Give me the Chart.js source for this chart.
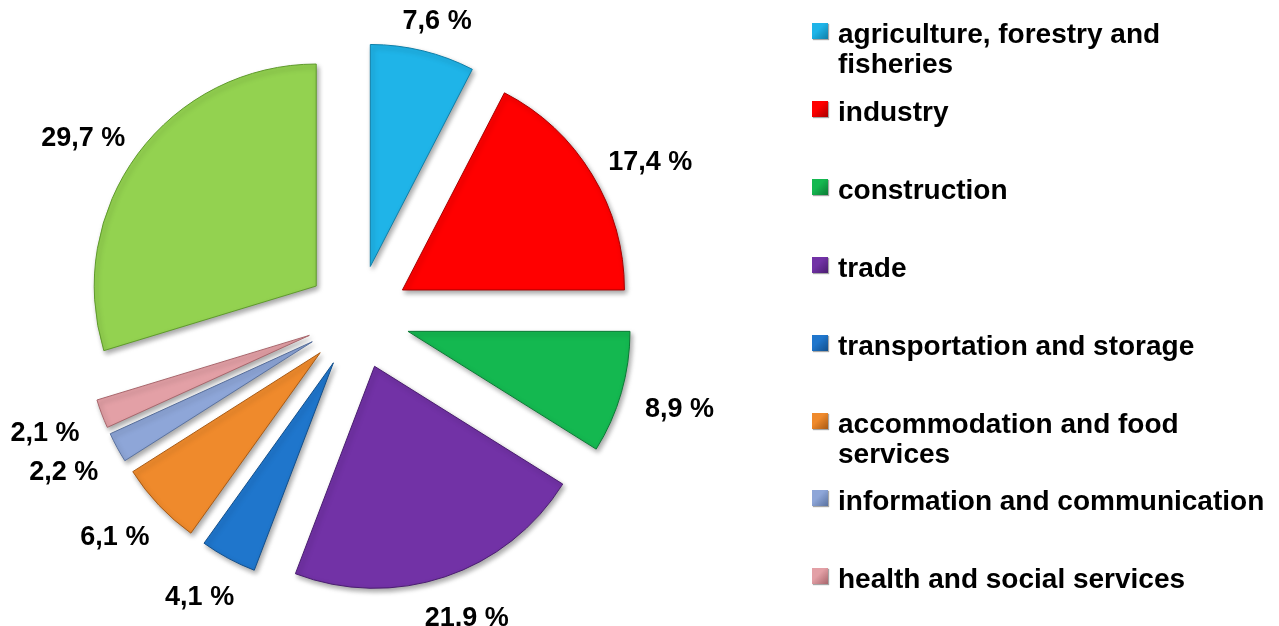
<!DOCTYPE html>
<html>
<head>
<meta charset="utf-8">
<script src="https://cdn.jsdelivr.net/npm/chart.js@4"></script>
<style>
  html, body { margin: 0; padding: 0; background: #fff; }
  #wrap { position: relative; width: 1279px; height: 626px; }
  #grafico { position: absolute; left: 0; top: 0; }
  #legenda { position: absolute; left: 812px; top: 0; width: 467px; }
  .item { position: absolute; left: 0; }
  .marca { position: absolute; left: 0; top: 4px; width: 16px; height: 16px; box-shadow: 1px 1px 1px rgba(0,0,0,0.35); }
  .texto { position: absolute; left: 26px; top: 0; width: 434px; font: bold 28px Arial, "Liberation Sans", sans-serif; line-height: 30px; color: #000; }
</style>
</head>
<body>
<div id="wrap">
  <canvas id="grafico" width="1279" height="626"></canvas>
  <div id="legenda"></div>
</div>
<script>
// categorias (a ultima fatia nao aparece na legenda)
var categorias = [
  "agriculture, forestry and fisheries",
  "industry",
  "construction",
  "trade",
  "transportation and storage",
  "accommodation and food services",
  "information and communication",
  "health and social services",
  "other"
];
// participacao em %
var valores = [7.6, 17.4, 8.9, 21.9, 4.1, 6.1, 2.2, 2.1, 29.7];

var cores = ["#1fb4e8", "#ff0000", "#14b850", "#7232a6", "#1f76cc", "#ef8a2c", "#8ea6d8", "#e3a0a6", "#93d250"];
var bordas = ["#0f7fa8", "#a80000", "#0b7a34", "#4a1d70", "#124f8c", "#a85a14", "#5a72a0", "#a8666c", "#5f9a2c"];

var explosao = 52; // distancia que cada fatia sai do centro (px)
var raio = 222;

// o offset do chart.js encolhe o angulo e aumenta o raio das fatias pequenas,
// entao a fatia e so deslocada aqui, igual ao grafico "explodido" do excel
var desenhaArco = Chart.ArcElement.prototype.draw;
Chart.ArcElement.prototype.draw = function(c) {
  var meio = (this.startAngle + this.endAngle) / 2;
  c.save();
  c.translate(Math.cos(meio) * explosao, Math.sin(meio) * explosao);
  desenhaArco.call(this, c);
  c.restore();
};

// legenda em html
var legenda = document.getElementById('legenda');
for (var i = 0; i < categorias.length - 1; i++) {
  var item = document.createElement('div');
  item.className = 'item';
  item.style.top = (19 + 77.9 * i) + 'px';
  item.innerHTML = '<div class="marca" style="background:linear-gradient(135deg,' + cores[i] + ' 40%,' + bordas[i] + ')"></div>' +
                   '<div class="texto">' + categorias[i] + '</div>';
  legenda.appendChild(item);
}

function formatar(v) {
  return v.toFixed(1).replace('.', ',') + ' %';
}

var rotulos = {
  id: 'rotulos',
  beforeDatasetsDraw: function(chart) {
    var ctx = chart.ctx;
    ctx.save();
    ctx.shadowColor = 'rgba(0,0,0,0.35)';
    ctx.shadowBlur = 5;
    ctx.shadowOffsetX = 2;
    ctx.shadowOffsetY = 3;
  },
  afterDatasetsDraw: function(chart) {
    var ctx = chart.ctx;
    ctx.restore();
    var arcos = chart.getDatasetMeta(0).data;
    ctx.save();
    ctx.font = 'bold 27px Arial, "Liberation Sans", sans-serif';
    ctx.fillStyle = '#000';
    ctx.textAlign = 'center';
    ctx.textBaseline = 'middle';
    var gap = explosao + 26;
    arcos.forEach(function(arco, idx) {
      var p = arco.getProps(['x', 'y', 'startAngle', 'endAngle', 'outerRadius'], true);
      var meio = (p.startAngle + p.endAngle) / 2;
      var dx = Math.cos(meio), dy = Math.sin(meio);
      var txt = formatar(valores[idx]);
      var w = ctx.measureText(txt).width;
      var h = 22;
      var ax = p.x + dx * (p.outerRadius + gap);
      var ay = p.y + dy * (p.outerRadius + gap);
      ctx.fillText(txt, ax + dx * w / 2, ay + dy * h / 2 + 7);
    });
    ctx.restore();
  }
};

var ctx = document.getElementById('grafico').getContext('2d');
var chart = new Chart(ctx, {
  type: 'pie',
  data: {
    labels: categorias,
    datasets: [{
      data: valores,
      backgroundColor: cores,
      borderColor: bordas,
      borderWidth: 1,
      radius: raio
    }]
  },
  options: {
    responsive: false,
    animation: false,
    radius: raio,
    layout: { padding: { left: 110, top: 69, right: 673, bottom: 61 } },
    plugins: {
      legend: { display: false },
      tooltip: { enabled: false }
    }
  },
  plugins: [rotulos]
});
</script>
</body>
</html>
